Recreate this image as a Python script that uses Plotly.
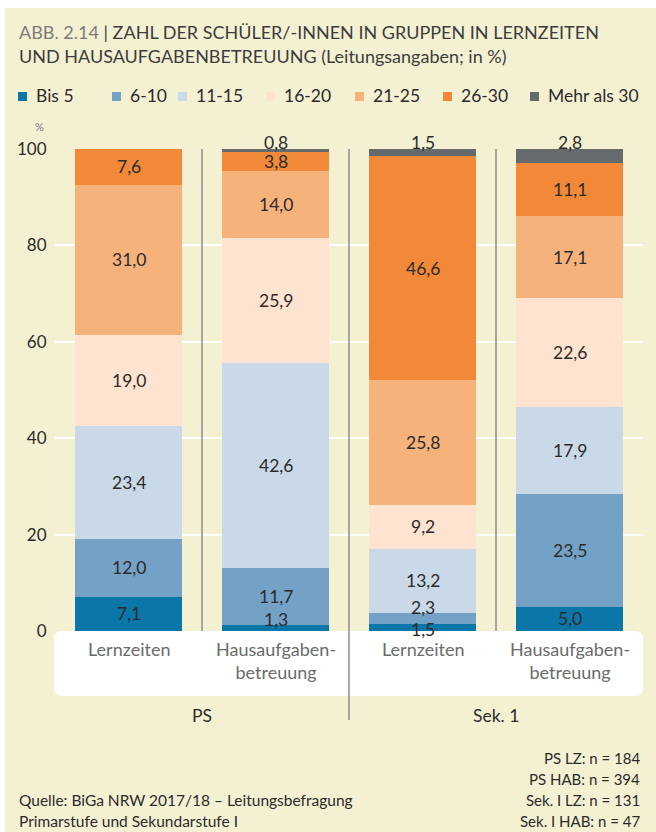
import plotly.graph_objects as go

# ---------------- data ----------------
categories = ["PS Lernzeiten", "PS Hausaufgabenbetreuung", "Sek. 1 Lernzeiten", "Sek. 1 Hausaufgabenbetreuung"]
tick_labels = ["Lernzeiten", "Hausaufgaben-<br>betreuung", "Lernzeiten", "Hausaufgaben-<br>betreuung"]
group_labels = ["PS", "Sek. 1"]
series_names = ["Bis 5", "6-10", "11-15", "16-20", "21-25", "26-30", "Mehr als 30"]
bis_5 = [7.1, 1.3, 1.5, 5.0]
s_6_10 = [12.0, 11.7, 2.3, 23.5]
s_11_15 = [23.4, 42.6, 13.2, 17.9]
s_16_20 = [19.0, 25.9, 9.2, 22.6]
s_21_25 = [31.0, 14.0, 25.8, 17.1]
s_26_30 = [7.6, 3.8, 46.6, 11.1]
mehr_als_30 = [0.0, 0.8, 1.5, 2.8]
y_ticks = [0, 20, 40, 60, 80, 100]
sample_sizes = ["PS LZ: n = 184", "PS HAB: n = 394", "Sek. I LZ: n = 131", "Sek. I HAB: n = 47"]
source_lines = ["Quelle: BiGa NRW 2017/18 – Leitungsbefragung", "Primarstufe und Sekundarstufe I"]

series_values = [bis_5, s_6_10, s_11_15, s_16_20, s_21_25, s_26_30, mehr_als_30]

# ---------------- styles ----------------
colors = ["#0b76a8", "#74a1c6", "#cad9e8", "#fde3d0", "#f6b27b", "#f18938", "#656a6c"]
FONT = "Lato"
BG = "#f4f1d2"
W, H = 656, 832
L, R, T, B = 55, 643, 149, 631   # plot area in pixels

def px_x(p):
    return (p - L) / (R - L)

def px_y(p):
    return (B - p) / (B - T)

fig = go.Figure()
for name, vals, col in zip(series_names, series_values, colors):
    fig.add_trace(go.Bar(
        x=categories, y=vals, name=name, marker=dict(color=col, line=dict(width=0)),
        width=0.728, showlegend=False, hoverinfo="skip",
    ))

annotations = []
shapes = []

# value labels
label_nudge_px = {(1, 0): 8, (2, 1): 11, (2, 0): -2}
for si, vals in enumerate(series_values):
    for ci, v in enumerate(vals):
        if v <= 0:
            continue
        base = sum(series_values[k][ci] for k in range(si))
        txt = f"{v:.1f}".replace(".", ",")
        if si == len(series_values) - 1 and v < 3:
            y, ys = 100, 7
        else:
            y, ys = base + v / 2, label_nudge_px.get((ci, si), 0)
        annotations.append(dict(
            x=categories[ci], y=y, xref="x", yref="y", text=txt, showarrow=False,
            xanchor="center", yshift=ys, font=dict(family=FONT, size=17.5, color="#2b2b2b"),
        ))

# panel background strips (white border top/left)
shapes.append(dict(type="rect", xref="paper", yref="paper", x0=px_x(0), x1=px_x(W),
                   y0=px_y(0), y1=px_y(8), fillcolor="white", line=dict(width=0), layer="below"))
shapes.append(dict(type="rect", xref="paper", yref="paper", x0=px_x(0), x1=px_x(5),
                   y0=px_y(0), y1=px_y(H), fillcolor="white", line=dict(width=0), layer="below"))

# white rounded box for category labels
x0, x1, y0, y1, r = 54, 643, 631, 696, 8
def P(a, b):
    return f"{px_x(a):.5f},{px_y(b):.5f}"
path = (f"M {P(x0 + r, y0)} L {P(x1 - r, y0)} Q {P(x1, y0)} {P(x1, y0 + r)} "
        f"L {P(x1, y1 - r)} Q {P(x1, y1)} {P(x1 - r, y1)} L {P(x0 + r, y1)} "
        f"Q {P(x0, y1)} {P(x0, y1 - r)} L {P(x0, y0 + r)} Q {P(x0, y0)} {P(x0 + r, y0)} Z")
shapes.append(dict(type="path", xref="paper", yref="paper", path=path,
                   fillcolor="white", line=dict(width=0), layer="above"))

# separators
n = len(categories)
for pos in [0.5, 2.5]:
    xp = (pos + 0.5) / n
    shapes.append(dict(type="line", xref="paper", yref="paper", x0=xp, x1=xp, y0=0, y1=1,
                       line=dict(color="#8c8c8c", width=1.5), layer="above"))
xp = (1.5 + 0.5) / n
shapes.append(dict(type="line", xref="paper", yref="paper", x0=xp, x1=xp, y0=1, y1=px_y(720),
                   line=dict(color="#8c8c8c", width=1.5), layer="above"))

# category labels
for ci, lab in enumerate(tick_labels):
    annotations.append(dict(x=categories[ci], xref="x", yref="paper", y=px_y(636), yanchor="top",
                            xanchor="center", text=lab, showarrow=False, align="center",
                            font=dict(family=FONT, size=18, color="#6b6b6b")))
# group labels
for gi, g in enumerate(group_labels):
    xg = (gi * 2 + 0.5 + 0.5) / n
    annotations.append(dict(x=xg, xref="paper", yref="paper", y=px_y(715), xanchor="center",
                            yanchor="middle", text=g, showarrow=False,
                            font=dict(family=FONT, size=17.5, color="#2b2b2b")))

# title
annotations.append(dict(x=px_x(17), y=px_y(32), xref="paper", yref="paper", xanchor="left", yanchor="middle",
                        text="<span style='color:#7c7c7c'>ABB. 2.14 </span>| ZAHL DER SCHÜLER/-INNEN IN GRUPPEN IN LERNZEITEN",
                        showarrow=False, font=dict(family=FONT, size=18, color="#3d3d3d")))
annotations.append(dict(x=px_x(17), y=px_y(56), xref="paper", yref="paper", xanchor="left", yanchor="middle",
                        text="UND HAUSAUFGABENBETREUUNG (Leitungsangaben; in %)",
                        showarrow=False, font=dict(family=FONT, size=18, color="#3d3d3d")))

# legend (manual)
legend_x = [18, 112, 178, 266, 355, 443, 530]
for name, col, lx in zip(series_names, colors, legend_x):
    shapes.append(dict(type="rect", xref="paper", yref="paper", x0=px_x(lx), x1=px_x(lx + 9),
                       y0=px_y(92), y1=px_y(101), fillcolor=col, line=dict(width=0)))
    annotations.append(dict(x=px_x(lx + 16), y=px_y(96), xref="paper", yref="paper", xanchor="left",
                            yanchor="middle", text=name, showarrow=False,
                            font=dict(family=FONT, size=17.5, color="#2b2b2b")))

# % label
annotations.append(dict(x=px_x(39), y=px_y(127), xref="paper", yref="paper", xanchor="center",
                        yanchor="middle", text="%", showarrow=False,
                        font=dict(family=FONT, size=11, color="#777777")))

# footer
for i, t in enumerate(sample_sizes):
    annotations.append(dict(x=px_x(642), y=px_y(758 + i * 21), xref="paper", yref="paper", xanchor="right",
                            yanchor="middle", text=t, showarrow=False,
                            font=dict(family=FONT, size=15, color="#2b2b2b")))
for i, t in enumerate(source_lines):
    annotations.append(dict(x=px_x(17), y=px_y(800 + i * 21), xref="paper", yref="paper", xanchor="left",
                            yanchor="middle", text=t, showarrow=False,
                            font=dict(family=FONT, size=15.5, color="#2b2b2b")))

fig.update_layout(
    barmode="stack",
    width=W, height=H,
    margin=dict(l=L, r=W - R, t=T, b=H - B, autoexpand=False),
    paper_bgcolor=BG, plot_bgcolor="rgba(0,0,0,0)",
    font=dict(family=FONT, color="#2b2b2b"),
    xaxis=dict(categoryorder="array", categoryarray=categories, range=[-0.5, n - 0.5],
               showticklabels=False, showgrid=False, zeroline=False, showline=False, fixedrange=True),
    yaxis=dict(range=[0, 100], tickvals=y_ticks, ticktext=[str(v) for v in y_ticks],
               showgrid=True, gridcolor="white", gridwidth=1.5, zeroline=False, showline=False,
               ticks="outside", ticklen=4, tickcolor="rgba(0,0,0,0)",
               tickfont=dict(family=FONT, size=17, color="#2b2b2b"), fixedrange=True),
    shapes=shapes,
    annotations=annotations,
    bargap=0,
)

fig.write_html("out.html")
